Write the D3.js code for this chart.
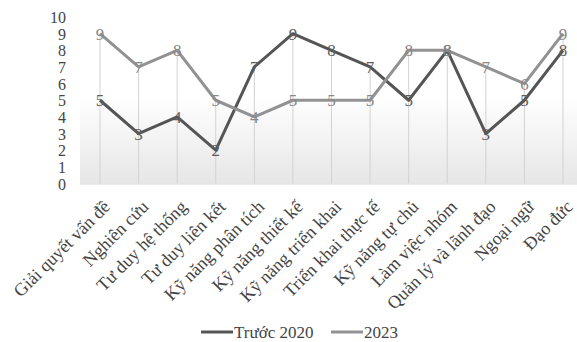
<!DOCTYPE html>
<html><head><meta charset="utf-8">
<script src="https://cdn.jsdelivr.net/npm/d3@7"></script>
<style>body{margin:0;background:#fff}svg{display:block}svg text{font-family:'Liberation Serif','DejaVu Serif',serif !important}</style>
</head><body>
<script>
const categories = ["Giải quyết vấn đề","Nghiên cứu","Tư duy hệ thống","Tư duy liên kết","Kỹ năng phân tích","Kỹ năng thiết kế","Kỹ năng triển khai","Triển khai thực tế","Kỹ năng tự chủ","Làm việc nhóm","Quản lý và lãnh đạo","Ngoại ngữ","Đạo đức"];
const before2020 = [5,3,4,2,7,9,8,7,5,8,3,5,8];
const y2023 = [9,7,8,5,4,5,5,5,8,8,7,6,9];
const yTicks = [0,1,2,3,4,5,6,7,8,9,10];
const seriesNames = ["Trước 2020","2023"];
const seriesColors = ["#555555","#929292"];

const W=577,H=342;
const svg=d3.select("body").append("svg").attr("width",W).attr("height",H);
const x=d3.scalePoint().domain(categories).range([100,563]);
const y=d3.scaleLinear().domain([0,10]).range([183.5,17]);
const plotL=80, plotR=577;

const defs=svg.append("defs");
const g=defs.append("linearGradient").attr("id","bg").attr("x1",0).attr("y1",0).attr("x2",0).attr("y2",1);
g.append("stop").attr("offset","0%").attr("stop-color","#fff");
g.append("stop").attr("offset","48%").attr("stop-color","#fff");
g.append("stop").attr("offset","100%").attr("stop-color","#e6e6e6");
svg.append("rect").attr("x",plotL).attr("y",y(10)).attr("width",plotR-plotL).attr("height",y(0)-y(10)).attr("fill","url(#bg)");

svg.append("g").selectAll("line").data(categories).join("line")
 .attr("x1",d=>x(d)).attr("x2",d=>x(d))
 .attr("y1",(d,i)=>y(Math.max(before2020[i],y2023[i]))).attr("y2",y(0))
 .attr("stroke","#d2d2d2").attr("stroke-width",1);
svg.append("line").attr("x1",plotL).attr("x2",plotR).attr("y1",y(0)+0.5).attr("y2",y(0)+0.5).attr("stroke","#d6d6d6");

const ya=svg.append("g").attr("transform","translate(66,0)").call(d3.axisLeft(y).tickValues(yTicks).tickSize(0).tickPadding(0));
ya.attr("font-family",null);
ya.select(".domain").remove();
ya.selectAll("text").attr("font-size",16).attr("fill","#444").attr("dy","0.35em");

svg.append("g").selectAll("text").data(categories).join("text")
 .attr("transform",d=>`translate(${x(d)+2},199) rotate(-45)`)
 .attr("text-anchor","end").attr("dy","0.7em").attr("font-size",18).attr("fill","#444").text(d=>d);

const line=d3.line().x((d,i)=>x(categories[i])).y(d=>y(d));
const data=[before2020,y2023];
data.forEach((s,k)=>{
 svg.append("path").datum(s).attr("d",line).attr("fill","none").attr("stroke",seriesColors[k]).attr("stroke-width",3).attr("stroke-linejoin","round");
});
data.forEach((s,k)=>{
 svg.append("g").selectAll("text").data(s).join("text")
  .attr("x",(d,i)=>x(categories[i])).attr("y",d=>y(d)).attr("dy","0.35em")
  .attr("text-anchor","middle").attr("font-size",17).attr("fill",k==0?"#5e5e5e":"#888").text(d=>d);
});

const lg=svg.append("g");
const items=[{n:seriesNames[0],c:seriesColors[0],x:201},{n:seriesNames[1],c:seriesColors[1],x:331}];
items.forEach(it=>{
 lg.append("line").attr("x1",it.x).attr("x2",it.x+32).attr("y1",332).attr("y2",332).attr("stroke",it.c).attr("stroke-width",3);
 lg.append("text").attr("x",it.x+33).attr("y",332).attr("dy","0.35em").attr("font-size",17).attr("fill","#444").text(it.n);
});
</script>
</body></html>
